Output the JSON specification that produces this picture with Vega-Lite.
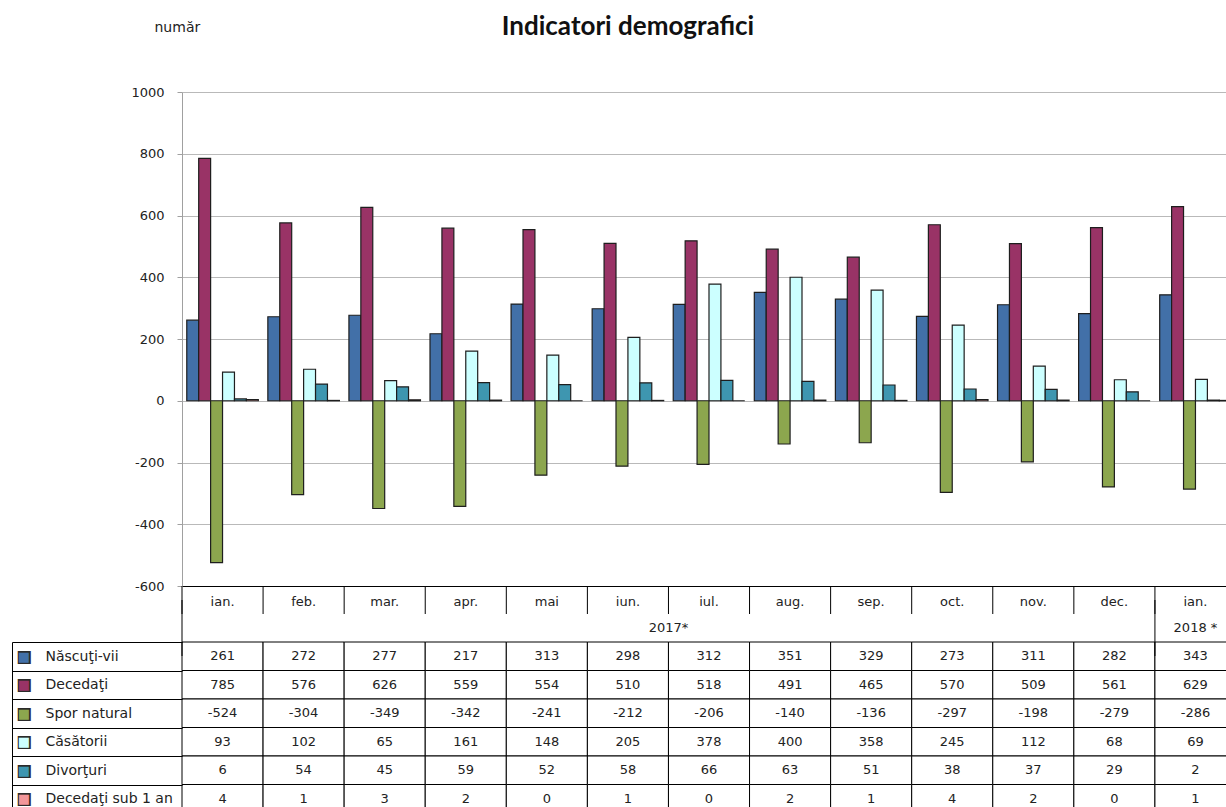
{
  "$schema": "https://vega.github.io/schema/vega-lite/v6.json",
  "autosize": {"type": "none"},
  "padding": {"left": 182, "top": 92, "right": 0, "bottom": 227},
  "width": 1054,
  "height": 494,
  "background": "white",
  "title": {
    "text": "Indicatori demografici",
    "anchor": "middle",
    "frame": "group",
    "dx": -81,
    "offset": -20,
    "font": "Lato",
    "fontSize": 26,
    "fontWeight": "bold",
    "color": "#111"
  },
  "config": {
    "view": {"stroke": null},
    "axis": {"labelFont": "DejaVu Sans", "titleFont": "DejaVu Sans"}
  },
  "datasets": {
    "d": [
      {"m": "ian.|2017", "s": "Născuţi-vii", "v": 261},
      {"m": "feb.|2017", "s": "Născuţi-vii", "v": 272},
      {"m": "mar.|2017", "s": "Născuţi-vii", "v": 277},
      {"m": "apr.|2017", "s": "Născuţi-vii", "v": 217},
      {"m": "mai|2017", "s": "Născuţi-vii", "v": 313},
      {"m": "iun.|2017", "s": "Născuţi-vii", "v": 298},
      {"m": "iul.|2017", "s": "Născuţi-vii", "v": 312},
      {"m": "aug.|2017", "s": "Născuţi-vii", "v": 351},
      {"m": "sep.|2017", "s": "Născuţi-vii", "v": 329},
      {"m": "oct.|2017", "s": "Născuţi-vii", "v": 273},
      {"m": "nov.|2017", "s": "Născuţi-vii", "v": 311},
      {"m": "dec.|2017", "s": "Născuţi-vii", "v": 282},
      {"m": "ian.|2018", "s": "Născuţi-vii", "v": 343},
      {"m": "ian.|2017", "s": "Decedaţi", "v": 785},
      {"m": "feb.|2017", "s": "Decedaţi", "v": 576},
      {"m": "mar.|2017", "s": "Decedaţi", "v": 626},
      {"m": "apr.|2017", "s": "Decedaţi", "v": 559},
      {"m": "mai|2017", "s": "Decedaţi", "v": 554},
      {"m": "iun.|2017", "s": "Decedaţi", "v": 510},
      {"m": "iul.|2017", "s": "Decedaţi", "v": 518},
      {"m": "aug.|2017", "s": "Decedaţi", "v": 491},
      {"m": "sep.|2017", "s": "Decedaţi", "v": 465},
      {"m": "oct.|2017", "s": "Decedaţi", "v": 570},
      {"m": "nov.|2017", "s": "Decedaţi", "v": 509},
      {"m": "dec.|2017", "s": "Decedaţi", "v": 561},
      {"m": "ian.|2018", "s": "Decedaţi", "v": 629},
      {"m": "ian.|2017", "s": "Spor natural", "v": -524},
      {"m": "feb.|2017", "s": "Spor natural", "v": -304},
      {"m": "mar.|2017", "s": "Spor natural", "v": -349},
      {"m": "apr.|2017", "s": "Spor natural", "v": -342},
      {"m": "mai|2017", "s": "Spor natural", "v": -241},
      {"m": "iun.|2017", "s": "Spor natural", "v": -212},
      {"m": "iul.|2017", "s": "Spor natural", "v": -206},
      {"m": "aug.|2017", "s": "Spor natural", "v": -140},
      {"m": "sep.|2017", "s": "Spor natural", "v": -136},
      {"m": "oct.|2017", "s": "Spor natural", "v": -297},
      {"m": "nov.|2017", "s": "Spor natural", "v": -198},
      {"m": "dec.|2017", "s": "Spor natural", "v": -279},
      {"m": "ian.|2018", "s": "Spor natural", "v": -286},
      {"m": "ian.|2017", "s": "Căsătorii", "v": 93},
      {"m": "feb.|2017", "s": "Căsătorii", "v": 102},
      {"m": "mar.|2017", "s": "Căsătorii", "v": 65},
      {"m": "apr.|2017", "s": "Căsătorii", "v": 161},
      {"m": "mai|2017", "s": "Căsătorii", "v": 148},
      {"m": "iun.|2017", "s": "Căsătorii", "v": 205},
      {"m": "iul.|2017", "s": "Căsătorii", "v": 378},
      {"m": "aug.|2017", "s": "Căsătorii", "v": 400},
      {"m": "sep.|2017", "s": "Căsătorii", "v": 358},
      {"m": "oct.|2017", "s": "Căsătorii", "v": 245},
      {"m": "nov.|2017", "s": "Căsătorii", "v": 112},
      {"m": "dec.|2017", "s": "Căsătorii", "v": 68},
      {"m": "ian.|2018", "s": "Căsătorii", "v": 69},
      {"m": "ian.|2017", "s": "Divorţuri", "v": 6},
      {"m": "feb.|2017", "s": "Divorţuri", "v": 54},
      {"m": "mar.|2017", "s": "Divorţuri", "v": 45},
      {"m": "apr.|2017", "s": "Divorţuri", "v": 59},
      {"m": "mai|2017", "s": "Divorţuri", "v": 52},
      {"m": "iun.|2017", "s": "Divorţuri", "v": 58},
      {"m": "iul.|2017", "s": "Divorţuri", "v": 66},
      {"m": "aug.|2017", "s": "Divorţuri", "v": 63},
      {"m": "sep.|2017", "s": "Divorţuri", "v": 51},
      {"m": "oct.|2017", "s": "Divorţuri", "v": 38},
      {"m": "nov.|2017", "s": "Divorţuri", "v": 37},
      {"m": "dec.|2017", "s": "Divorţuri", "v": 29},
      {"m": "ian.|2018", "s": "Divorţuri", "v": 2},
      {"m": "ian.|2017", "s": "Decedaţi sub 1 an", "v": 4},
      {"m": "feb.|2017", "s": "Decedaţi sub 1 an", "v": 1},
      {"m": "mar.|2017", "s": "Decedaţi sub 1 an", "v": 3},
      {"m": "apr.|2017", "s": "Decedaţi sub 1 an", "v": 2},
      {"m": "mai|2017", "s": "Decedaţi sub 1 an", "v": 0},
      {"m": "iun.|2017", "s": "Decedaţi sub 1 an", "v": 1},
      {"m": "iul.|2017", "s": "Decedaţi sub 1 an", "v": 0},
      {"m": "aug.|2017", "s": "Decedaţi sub 1 an", "v": 2},
      {"m": "sep.|2017", "s": "Decedaţi sub 1 an", "v": 1},
      {"m": "oct.|2017", "s": "Decedaţi sub 1 an", "v": 4},
      {"m": "nov.|2017", "s": "Decedaţi sub 1 an", "v": 2},
      {"m": "dec.|2017", "s": "Decedaţi sub 1 an", "v": 0},
      {"m": "ian.|2018", "s": "Decedaţi sub 1 an", "v": 1}
    ],
    "months": [
      {"m": "ian.|2017", "r": "luna", "t": "ian."},
      {"m": "feb.|2017", "r": "luna", "t": "feb."},
      {"m": "mar.|2017", "r": "luna", "t": "mar."},
      {"m": "apr.|2017", "r": "luna", "t": "apr."},
      {"m": "mai|2017", "r": "luna", "t": "mai"},
      {"m": "iun.|2017", "r": "luna", "t": "iun."},
      {"m": "iul.|2017", "r": "luna", "t": "iul."},
      {"m": "aug.|2017", "r": "luna", "t": "aug."},
      {"m": "sep.|2017", "r": "luna", "t": "sep."},
      {"m": "oct.|2017", "r": "luna", "t": "oct."},
      {"m": "nov.|2017", "r": "luna", "t": "nov."},
      {"m": "dec.|2017", "r": "luna", "t": "dec."},
      {"m": "ian.|2018", "r": "luna", "t": "ian."}
    ],
    "yearEdges": [
      {"m": "ian.|2017", "r": "an"},
      {"m": "ian.|2018", "r": "an"}
    ],
    "years": [
      {"m": "iul.|2017", "r": "an", "t": "2017*"}
    ],
    "years2": [
      {"m": "ian.|2018", "r": "an", "t": "2018 *"}
    ]
  },
  "resolve": {"scale": {"y": "independent"}, "axis": {"y": "independent"}},
  "layer": [
    {
      "data": {"name": "d"},
      "mark": {"type": "bar", "stroke": "#1e1e1e", "strokeWidth": 1.2},
      "encoding": {
        "x": {
          "field": "m", "type": "nominal", "axis": null,
          "scale": {"domain": ["ian.|2017","feb.|2017","mar.|2017","apr.|2017","mai|2017","iun.|2017","iul.|2017","aug.|2017","sep.|2017","oct.|2017","nov.|2017","dec.|2017","ian.|2018"], "paddingInner": 0, "paddingOuter": 0}
        },
        "xOffset": {
          "field": "s", "type": "nominal",
          "scale": {"domain": ["Născuţi-vii","Decedaţi","Spor natural","Căsătorii","Divorţuri","Decedaţi sub 1 an"], "paddingInner": 0, "paddingOuter": 0.4}
        },
        "y": {
          "field": "v", "type": "quantitative", "stack": null,
          "scale": {"domain": [-600, 1000], "nice": false, "zero": false},
          "axis": {
            "orient": "left",
            "values": [-600, -400, -200, 0, 200, 400, 600, 800, 1000],
            "title": "număr",
            "titleAngle": 0,
            "titleAlign": "left",
            "titleBaseline": "middle",
            "titleX": -28,
            "titleY": -65,
            "titleFontSize": 14,
            "titleFontWeight": "normal",
            "titleColor": "#222",
            "grid": true,
            "gridColor": {"condition": {"test": "datum.value === -600", "value": "#000"}, "value": "#b9b9b9"},
            "gridWidth": 1,
            "domainColor": "#a0a0a0",
            "tickColor": "#a0a0a0",
            "tickSize": 5,
            "labelPadding": 13,
            "labelExpr": "datum.value + ''",
            "labelFontSize": 13,
            "labelColor": "#222"
          }
        },
        "color": {
          "field": "s", "type": "nominal",
          "scale": {"domain": ["Născuţi-vii","Decedaţi","Spor natural","Căsătorii","Divorţuri","Decedaţi sub 1 an"], "range": ["#4270a8","#993366","#8ca64e","#ccffff","#3e96b0","#f2969a"]},
          "legend": null
        }
      }
    },
    {
      "data": {"name": "d"},
      "mark": {"type": "rect", "fill": "white", "stroke": "#000", "strokeWidth": 1},
      "encoding": {
        "x": {"field": "m", "type": "nominal", "axis": null,
          "scale": {"domain": ["ian.|2017","feb.|2017","mar.|2017","apr.|2017","mai|2017","iun.|2017","iul.|2017","aug.|2017","sep.|2017","oct.|2017","nov.|2017","dec.|2017","ian.|2018"], "paddingInner": 0, "paddingOuter": 0}},
        "y": {
          "field": "s", "type": "nominal",
          "scale": {"domain": ["Născuţi-vii","Decedaţi","Spor natural","Căsătorii","Divorţuri","Decedaţi sub 1 an"], "range": [550, 721], "paddingInner": 0, "paddingOuter": 0},
          "axis": {
            "orient": "left",
            "title": null,
            "domain": false,
            "grid": false,
            "tickBand": "extent",
            "tickSize": 170,
            "tickColor": "#000",
            "tickWidth": 1,
            "labelAlign": "left",
            "labelBaseline": "middle",
            "labelPadding": -33,
            "labelFontSize": 14,
            "labelColor": "#222",
            "labelLimit": 200
          }
        }
      }
    },
    {
      "data": {"name": "d"},
      "mark": {"type": "text", "font": "DejaVu Sans", "fontSize": 13, "color": "#222"},
      "encoding": {
        "x": {"field": "m", "type": "nominal", "axis": null,
          "scale": {"domain": ["ian.|2017","feb.|2017","mar.|2017","apr.|2017","mai|2017","iun.|2017","iul.|2017","aug.|2017","sep.|2017","oct.|2017","nov.|2017","dec.|2017","ian.|2018"], "paddingInner": 0, "paddingOuter": 0}},
        "y": {
          "field": "s", "type": "nominal",
          "scale": {"domain": ["Născuţi-vii","Decedaţi","Spor natural","Căsătorii","Divorţuri","Decedaţi sub 1 an"], "range": [550, 721], "paddingInner": 0, "paddingOuter": 0},
          "axis": {
            "orient": "left",
            "offset": 170,
            "title": null,
            "grid": false,
            "domain": true,
            "domainColor": "#000",
            "domainWidth": 1,
            "ticks": false,
            "tickSize": 0,
            "labelExpr": "'■'",
            "labelAlign": "center",
            "labelBaseline": "middle",
            "labelPadding": -11.5,
            "labelFontSize": 17,
            "labelColor": "#2a2a2a"
          }
        },
        "text": {"field": "v", "type": "nominal"}
      }
    },
    {
      "data": {"name": "d"},
      "mark": {"type": "text", "opacity": 0},
      "encoding": {
        "x": {"field": "m", "type": "nominal", "axis": null,
          "scale": {"domain": ["ian.|2017","feb.|2017","mar.|2017","apr.|2017","mai|2017","iun.|2017","iul.|2017","aug.|2017","sep.|2017","oct.|2017","nov.|2017","dec.|2017","ian.|2018"], "paddingInner": 0, "paddingOuter": 0}},
        "y": {
          "field": "s", "type": "nominal",
          "scale": {"domain": ["Născuţi-vii","Decedaţi","Spor natural","Căsătorii","Divorţuri","Decedaţi sub 1 an"], "range": [550, 721], "paddingInner": 0, "paddingOuter": 0},
          "axis": {
            "orient": "left",
            "offset": 170,
            "title": null,
            "grid": false,
            "domain": false,
            "ticks": false,
            "tickSize": 0,
            "labelExpr": "'■'",
            "labelAlign": "center",
            "labelBaseline": "middle",
            "labelPadding": -11.5,
            "labelFontSize": 13,
            "labelColor": {
              "condition": [
                {"test": "datum.value === 'Născuţi-vii'", "value": "#4270a8"},
                {"test": "datum.value === 'Decedaţi'", "value": "#993366"},
                {"test": "datum.value === 'Spor natural'", "value": "#8ca64e"},
                {"test": "datum.value === 'Căsătorii'", "value": "#ccffff"},
                {"test": "datum.value === 'Divorţuri'", "value": "#3e96b0"}
              ],
              "value": "#f2969a"
            }
          }
        },
        "text": {"field": "v", "type": "nominal"}
      }
    },
    {
      "data": {"name": "months"},
      "mark": {"type": "text", "font": "DejaVu Sans", "fontSize": 13, "color": "#222", "dy": 2},
      "encoding": {
        "x": {"field": "m", "type": "nominal", "axis": null,
          "scale": {"domain": ["ian.|2017","feb.|2017","mar.|2017","apr.|2017","mai|2017","iun.|2017","iul.|2017","aug.|2017","sep.|2017","oct.|2017","nov.|2017","dec.|2017","ian.|2018"], "paddingInner": 0, "paddingOuter": 0}},
        "y": {"field": "r", "type": "nominal", "axis": null,
          "scale": {"domain": ["luna", "an"], "range": [494, 550], "paddingInner": 0, "paddingOuter": 0}},
        "text": {"field": "t", "type": "nominal"}
      }
    },
    {
      "data": {"name": "months"},
      "mark": {"type": "tick", "orient": "vertical", "size": 28, "thickness": 1, "color": "#000", "opacity": 1},
      "encoding": {
        "x": {"field": "m", "type": "nominal", "bandPosition": 0, "axis": null,
          "scale": {"domain": ["ian.|2017","feb.|2017","mar.|2017","apr.|2017","mai|2017","iun.|2017","iul.|2017","aug.|2017","sep.|2017","oct.|2017","nov.|2017","dec.|2017","ian.|2018"], "paddingInner": 0, "paddingOuter": 0}},
        "y": {"field": "r", "type": "nominal", "axis": null,
          "scale": {"domain": ["luna", "an"], "range": [494, 550], "paddingInner": 0, "paddingOuter": 0}}
      }
    },
    {
      "data": {"name": "yearEdges"},
      "mark": {"type": "tick", "orient": "vertical", "size": 56, "thickness": 1, "color": "#000", "opacity": 1},
      "encoding": {
        "x": {"field": "m", "type": "nominal", "bandPosition": 0, "axis": null,
          "scale": {"domain": ["ian.|2017","feb.|2017","mar.|2017","apr.|2017","mai|2017","iun.|2017","iul.|2017","aug.|2017","sep.|2017","oct.|2017","nov.|2017","dec.|2017","ian.|2018"], "paddingInner": 0, "paddingOuter": 0}},
        "y": {"field": "r", "type": "nominal", "bandPosition": 0, "axis": null,
          "scale": {"domain": ["luna", "an"], "range": [494, 550], "paddingInner": 0, "paddingOuter": 0}}
      }
    },
    {
      "data": {"name": "years"},
      "mark": {"type": "text", "font": "DejaVu Sans", "fontSize": 13, "color": "#222"},
      "encoding": {
        "x": {"field": "m", "type": "nominal", "bandPosition": 0, "axis": null,
          "scale": {"domain": ["ian.|2017","feb.|2017","mar.|2017","apr.|2017","mai|2017","iun.|2017","iul.|2017","aug.|2017","sep.|2017","oct.|2017","nov.|2017","dec.|2017","ian.|2018"], "paddingInner": 0, "paddingOuter": 0}},
        "y": {"field": "r", "type": "nominal", "axis": null,
          "scale": {"domain": ["luna", "an"], "range": [494, 550], "paddingInner": 0, "paddingOuter": 0}},
        "text": {"field": "t", "type": "nominal"}
      }
    },
    {
      "data": {"name": "years2"},
      "mark": {"type": "text", "font": "DejaVu Sans", "fontSize": 13, "color": "#222"},
      "encoding": {
        "x": {"field": "m", "type": "nominal", "axis": null,
          "scale": {"domain": ["ian.|2017","feb.|2017","mar.|2017","apr.|2017","mai|2017","iun.|2017","iul.|2017","aug.|2017","sep.|2017","oct.|2017","nov.|2017","dec.|2017","ian.|2018"], "paddingInner": 0, "paddingOuter": 0}},
        "y": {"field": "r", "type": "nominal", "axis": null,
          "scale": {"domain": ["luna", "an"], "range": [494, 550], "paddingInner": 0, "paddingOuter": 0}},
        "text": {"field": "t", "type": "nominal"}
      }
    }
  ]
}
